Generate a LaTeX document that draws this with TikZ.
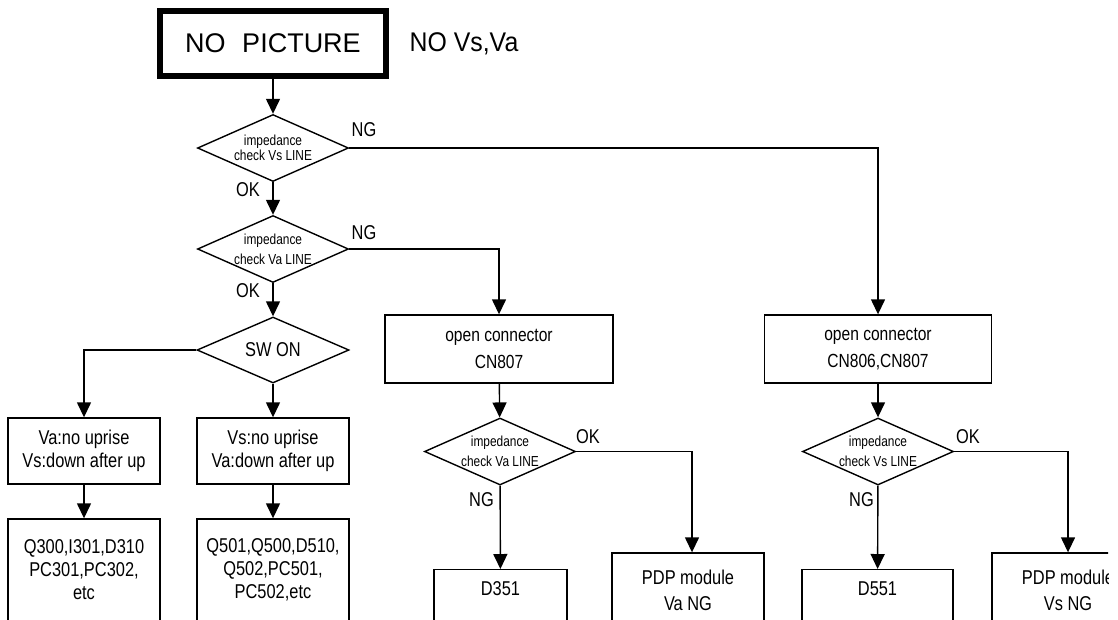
\documentclass[tikz,border=0pt]{standalone}
\usepackage{fontspec}
\setmainfont{Liberation Sans}[FakeStretch=0.82]
\newfontfamily\widefont{Liberation Sans}
\newfontfamily\midfont{Liberation Sans}[FakeStretch=0.92]
\usetikzlibrary{shapes.geometric,arrows.meta}

\begin{document}
\begin{tikzpicture}[x=1pt,y=-1pt,
  every node/.style={font=\fontsize{20}{23}\selectfont},
  arr/.style={line width=1.4pt,-{Triangle[width=14pt,length=15pt]}},
  box/.style={draw,line width=1.4pt,rectangle,align=center,inner sep=0pt},
  dia/.style={draw,line width=1.4pt,diamond,aspect=2.25,inner sep=0pt,
    minimum width=151pt,minimum height=67pt,align=center,
    font=\fontsize{14.5}{20}\selectfont},
  lbl/.style={font=\fontsize{20}{22}\selectfont,inner sep=0pt}]

\useasboundingbox (0,0) rectangle (1118,619);
\fill[white] (0,0) rectangle (1118,619);

\begin{scope}
\clip (0,0) rectangle (1108,619);

% top
\node[draw,line width=5.5pt,rectangle,minimum width=226pt,minimum height=65pt,inner sep=0pt,
  font=\widefont\fontsize{27}{30}\selectfont] (top) at (273,43.5) {NO\hspace{16.5pt}PICTURE};
\node[font=\midfont\fontsize{27}{30}\selectfont,inner sep=0pt] (novs) at (464,44) {NO Vs,Va};

% main column
\node[dia,font=\fontsize{14.5}{15}\selectfont] (d1) at (273,148) {impedance\\check Vs LINE};
\node[dia] (d2) at (273,249) {impedance\\check Va LINE};
\node[dia,minimum width=152pt,minimum height=66pt,font=\fontsize{20}{23}\selectfont] (sw) at (273,350) {SW ON};

\node[box,minimum width=152pt,minimum height=66pt] (b1) at (84,451) {Va:no uprise\\Vs:down after up};
\node[box,minimum width=152pt,minimum height=66pt] (b2) at (273,451) {Vs:no uprise\\Va:down after up};
\node[box,minimum width=152pt,minimum height=102pt] (b3) at (84,570) {Q300,I301,D310\\PC301,PC302,\\etc};
\node[box,minimum width=152pt,minimum height=102pt] (b4) at (273,570) {Q501,Q500,D510,\\Q502,PC501,\\PC502,etc};

% middle column
\node[box,minimum width=228pt,minimum height=68pt,font=\fontsize{19}{27}\selectfont] (cn807) at (499,349) {open connector\\CN807};
\node[dia] (d3) at (500,451.5) {impedance\\check Va LINE};
\node[box,anchor=north,minimum width=133pt,inner ysep=0pt,text height=26pt,text depth=40pt] (d351) at (500.5,569) {D351};
\node[box,minimum width=152pt,minimum height=74pt,font=\fontsize{20}{26}\selectfont] (pdpva) at (688,590) {PDP module\\Va NG};

% right column
\node[box,minimum width=227pt,minimum height=68pt,font=\fontsize{19}{27}\selectfont] (cn806) at (878,349) {open connector\\CN806,CN807};
\node[dia] (d4) at (878,451.5) {impedance\\check Vs LINE};
\node[box,anchor=north,minimum width=151pt,inner ysep=0pt,text height=26pt,text depth=40pt] (d551) at (877.5,569) {D551};
\node[box,minimum width=152pt,minimum height=74pt,font=\fontsize{20}{26}\selectfont] (pdpvs) at (1068,590) {PDP module\\Vs NG};

% connectors
\draw[arr] (top) -- (d1);
\draw[arr] (d1.east) -| (cn806.north);
\draw[arr] (d1) -- (d2);
\draw[arr] (d2.east) -| (cn807.north);
\draw[arr] (d2) -- (sw);
\draw[arr] (sw.west) -| (b1.north);
\draw[arr] (sw) -- (b2);
\draw[arr] (b1) -- (b3);
\draw[arr] (b2) -- (b4);
\draw[arr] (cn807) -- (d3);
\draw[arr] (d3) -- (d351);
\draw[arr] (d3.east) -| ([xshift=4pt]pdpva.north);
\draw[arr] (cn806) -- (d4);
\draw[arr] (d4) -- (d551);
\draw[arr] (d4.east) -| (pdpvs.north);

% labels
\node[lbl] (ng1) at (364,130) {NG};
\node[lbl] (ok1) at (248,190) {OK};
\node[lbl] (ng2) at (364,233) {NG};
\node[lbl] (ok2) at (248,291) {OK};
\node[lbl] (ok3) at (588,437) {OK};
\node[lbl] (ng3) at (481.5,500) {NG};
\node[lbl] (ok4) at (968,437) {OK};
\node[lbl] (ng4) at (861.5,500) {NG};
\end{scope}
\end{tikzpicture}
\end{document}
